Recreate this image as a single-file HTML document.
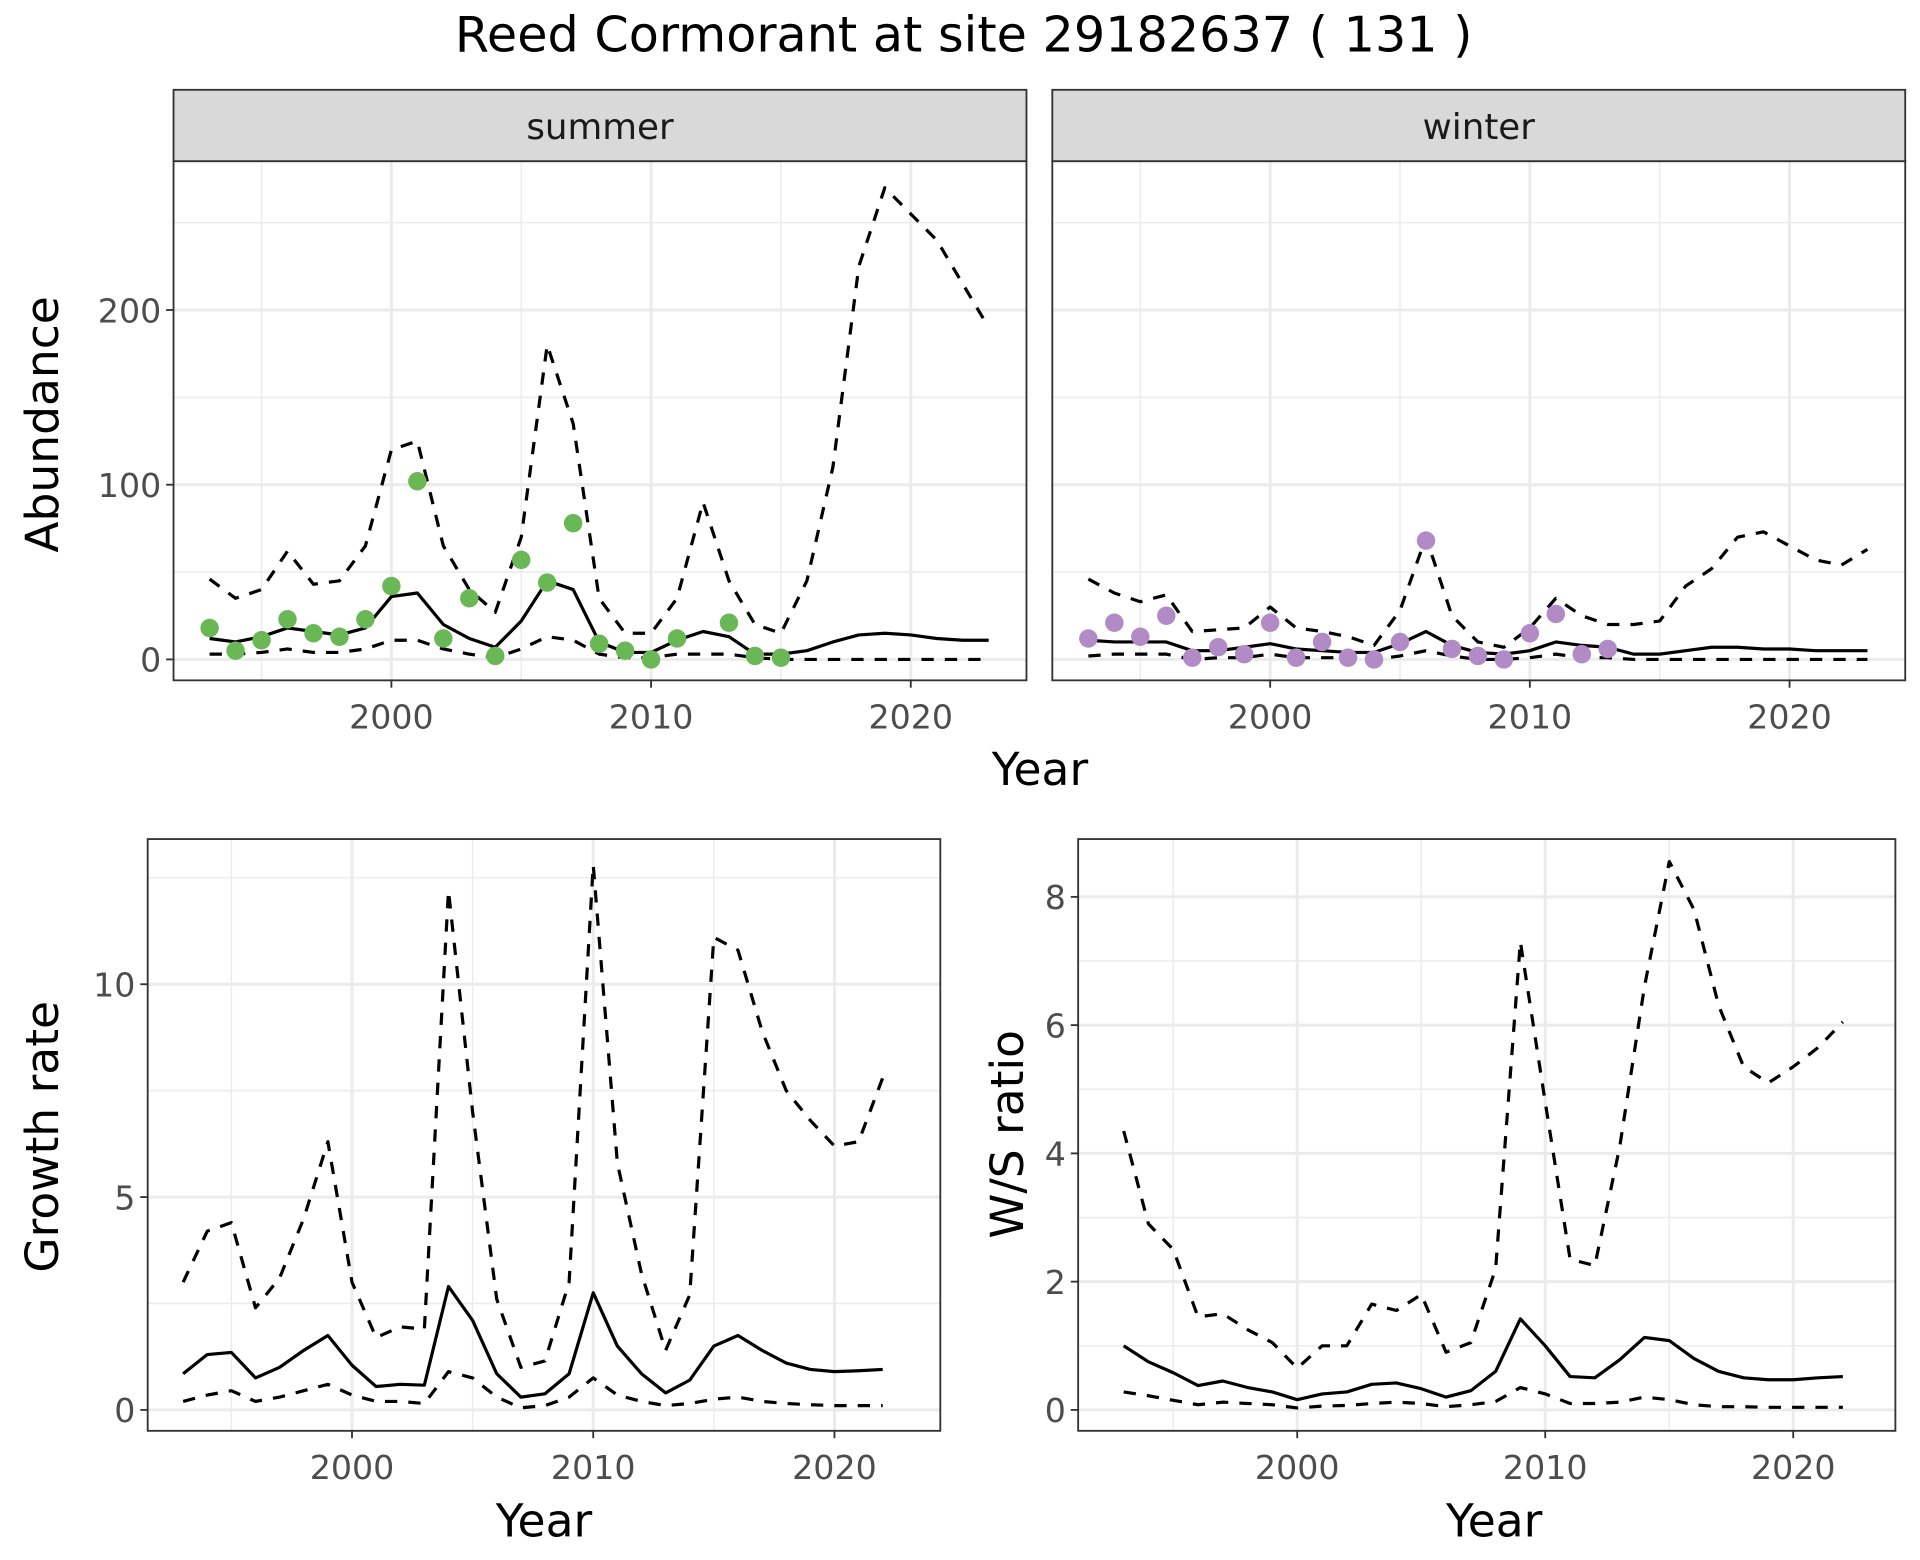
<!DOCTYPE html>
<html><head><meta charset="utf-8"><style>
html,body{margin:0;padding:0;background:#fff;}
svg{display:block;font-family:"DejaVu Sans","Liberation Sans",sans-serif;}
</style></head><body>
<svg id="chart" width="1920" height="1560" viewBox="0 0 1560 1268" preserveAspectRatio="none" xmlns="http://www.w3.org/2000/svg">
<text x="783" y="42" text-anchor="middle" font-size="40">Reed Cormorant at site 29182637 ( 131 )</text>
</svg>
<script>
const yearsFull = [];
for (let y = 1993; y <= 2023; y++) yearsFull.push(y);
const summerPtYears = [1993,1994,1995,1996,1997,1998,1999,2000,2001,2002,2003,2004,2005,2006,2007,2008,2009,2010,2011,2013,2014,2015];
const summerPtVals = [18,5,11,23,15,13,23,42,102,12,35,2,57,44,78,9,5,0,12,21,2,1];
const summerMean = [12,10,13,18,16,14,18,36,38,20,12,7,22,45,40,10,4,4,11,16,13,3,3,5,10,14,15,14,12,11,11];
const summerUpper = [46,35,40,62,43,45,65,120,125,65,40,27,70,180,135,35,15,15,35,90,45,20,15,45,110,225,270,255,240,215,190];
const summerLower = [3,3,4,6,4,4,6,11,11,6,3,1,6,13,11,3,1,1,3,3,3,1,0,0,0,0,0,0,0,0,0];
const winterPtYears = [1993,1994,1995,1996,1997,1998,1999,2000,2001,2002,2003,2004,2005,2006,2007,2008,2009,2010,2011,2012,2013];
const winterPtVals = [12,21,13,25,1,7,3,21,1,10,1,0,10,68,6,2,0,15,26,3,6];
const winterMean = [11,10,10,10,5,5,7,9,6,5,4,4,9,16,8,4,3,5,10,8,7,3,3,5,7,7,6,6,5,5,5];
const winterUpper = [46,38,33,37,16,17,18,30,18,16,13,8,28,70,25,10,7,18,35,25,20,20,22,42,52,70,73,65,57,54,63];
const winterLower = [2,3,3,3,0,1,1,3,1,1,1,0,2,5,2,0,0,1,3,1,1,0,0,0,0,0,0,0,0,0,0];
const yearsGR = yearsFull.slice(0,30);
const grMean = [0.85,1.3,1.35,0.75,1.0,1.4,1.75,1.05,0.55,0.6,0.58,2.9,2.1,0.85,0.3,0.38,0.85,2.75,1.5,0.85,0.4,0.7,1.5,1.75,1.4,1.1,0.95,0.9,0.92,0.95];
const grUpper = [3.0,4.2,4.4,2.4,3.1,4.5,6.3,3.0,1.7,1.95,1.9,12.2,7.0,2.6,1.0,1.15,3.0,12.8,5.8,3.2,1.4,2.7,11.1,10.8,8.9,7.5,6.8,6.2,6.3,7.8];
const grLower = [0.2,0.35,0.45,0.2,0.3,0.45,0.6,0.35,0.2,0.2,0.15,0.9,0.75,0.3,0.05,0.1,0.3,0.75,0.35,0.2,0.1,0.15,0.25,0.3,0.2,0.15,0.12,0.1,0.1,0.1];
const wsMean = [1.0,0.75,0.58,0.38,0.45,0.35,0.28,0.16,0.25,0.28,0.4,0.42,0.33,0.2,0.3,0.6,1.42,1.0,0.52,0.5,0.78,1.13,1.08,0.8,0.6,0.5,0.47,0.47,0.5,0.52];
const wsUpper = [4.35,2.9,2.5,1.45,1.5,1.25,1.05,0.65,1.0,1.0,1.65,1.55,1.8,0.9,1.05,2.2,7.3,4.8,2.35,2.25,4.1,6.6,8.55,7.8,6.3,5.35,5.1,5.35,5.65,6.05];
const wsLower = [0.28,0.22,0.15,0.08,0.12,0.1,0.08,0.03,0.06,0.07,0.1,0.12,0.1,0.05,0.08,0.13,0.35,0.25,0.1,0.1,0.12,0.2,0.16,0.08,0.05,0.05,0.04,0.04,0.04,0.04];
const xTicks = [2000,2010,2020];
const xMinor = [1995,2005,2015];
const abTicks = [0,100,200];
const abMinor = [50,150,250];
const grTicks = [0,5,10];
const grMinor = [2.5,7.5,12.5];
const wsTicks = [0,2,4,6,8];
const wsMinor = [1,3,5,7];

const NS = "http://www.w3.org/2000/svg";
const svg = document.getElementById('chart');
function mk(tag, attrs, parent){
  const e = document.createElementNS(NS, tag);
  for (const k in attrs) e.setAttribute(k, attrs[k]);
  (parent||svg).appendChild(e);
  return e;
}
function linear(d0,d1,r0,r1){ return v => r0 + (v-d0)/(d1-d0)*(r1-r0); }

function panel(p){
  const g = mk('g',{});
  
  
  mk('rect',{x:p.x0,y:p.y0,width:p.x1-p.x0,height:p.y1-p.y0,fill:'#fff'},g);
  p.xMinor.forEach(v=>{ const x=p.sx(v); mk('line',{x1:x,x2:x,y1:p.y0,y2:p.y1,stroke:'#ebebeb','stroke-width':1.2},g); });
  p.yMinor.forEach(v=>{ const y=p.sy(v); if(y>p.y0&&y<p.y1) mk('line',{x1:p.x0,x2:p.x1,y1:y,y2:y,stroke:'#ebebeb','stroke-width':1.2},g); });
  p.xTicks.forEach(v=>{ const x=p.sx(v); mk('line',{x1:x,x2:x,y1:p.y0,y2:p.y1,stroke:'#ebebeb','stroke-width':2.4},g); });
  p.yTicks.forEach(v=>{ const y=p.sy(v); mk('line',{x1:p.x0,x2:p.x1,y1:y,y2:y,stroke:'#ebebeb','stroke-width':2.4},g); });
  p.series.forEach(s=>{
    const pts = s.vals.map((v,i)=>p.sx(s.years[i]).toFixed(1)+','+p.sy(v).toFixed(1)).join(' ');
    const pl = mk('polyline',{points:pts,fill:'none',stroke:'#000','stroke-width':2.6,'stroke-dasharray':s.dash?'10,9':'none','stroke-linejoin':'round'},g);
    
    
  });
  if (p.points) p.points.vals.forEach((v,i)=>{
    const c = mk('circle',{cx:p.sx(p.points.years[i]),cy:p.sy(v),r:7.5,fill:p.points.color},g);
    
    
  });
  mk('rect',{x:p.x0,y:p.y0,width:p.x1-p.x0,height:p.y1-p.y0,fill:'none',stroke:'#333','stroke-width':1.5},g);
  if (p.strip){
    const r = mk('rect',{x:p.x0,y:p.y0-58,width:p.x1-p.x0,height:58,fill:'#d9d9d9',stroke:'#333','stroke-width':1.5},g);
    
    
    const t = mk('text',{x:(p.x0+p.x1)/2,y:p.y0-18,'text-anchor':'middle','font-size':29,fill:'#1a1a1a'},g);
    t.textContent = p.strip;
    
    
  }
  p.xTicks.forEach(v=>{
    const x=p.sx(v);
    mk('line',{x1:x,x2:x,y1:p.y1,y2:p.y1+6,stroke:'#333','stroke-width':1.5},g);
    const t=mk('text',{x:x,y:p.y1+39,'text-anchor':'middle','font-size':27,fill:'#4d4d4d'},g);
    t.textContent=v;
    
    
  });
  if (p.yLabels) p.yTicks.forEach(v=>{
    const y=p.sy(v);
    mk('line',{x1:p.x0-6,x2:p.x0,y1:y,y2:y,stroke:'#333','stroke-width':1.5},g);
    const t=mk('text',{x:p.x0-10,y:y+10,'text-anchor':'end','font-size':27,fill:'#4d4d4d'},g);
    t.textContent=v;
    
    
  });
  if (p.xTitle){
    const t=mk('text',{x:p.xTitle[0],y:p.xTitle[1],'text-anchor':'middle','font-size':37,fill:'#000'},g);
    t.textContent='Year';
    
    
  }
  if (p.yTitle){
    const t=mk('text',{x:0,y:0,'text-anchor':'middle','font-size':37,fill:'#000',transform:`translate(${p.yTitle[0]},${p.yTitle[1]}) rotate(-90)`},g);
    t.textContent=p.yTitle[2];
    
    
  }
}

const absY = linear(0,200,536,252);
panel({name:'summer-panel',x0:141,x1:834,y0:131,y1:553,sx:linear(2000,2020,318,740),sy:absY,
  xTicks,xMinor,yTicks:abTicks,yMinor:abMinor,yLabels:true,strip:'summer',
  yTitle:[47,345,'Abundance'],
  series:[{name:'summer-upper',years:yearsFull,vals:summerUpper,dash:true},{name:'summer-lower',years:yearsFull,vals:summerLower,dash:true},{name:'summer-mean',years:yearsFull,vals:summerMean}],
  points:{years:summerPtYears,vals:summerPtVals,color:'#6ab855'}});
panel({name:'winter-panel',x0:855,x1:1548,y0:131,y1:553,sx:linear(2000,2020,1032,1454),sy:absY,
  xTicks,xMinor,yTicks:abTicks,yMinor:abMinor,yLabels:false,strip:'winter',
  series:[{name:'winter-upper',years:yearsFull,vals:winterUpper,dash:true},{name:'winter-lower',years:yearsFull,vals:winterLower,dash:true},{name:'winter-mean',years:yearsFull,vals:winterMean}],
  points:{years:winterPtYears,vals:winterPtVals,color:'#b28ac6'}});
const yt = mk('text',{x:845,y:638,'text-anchor':'middle','font-size':37});
yt.textContent='Year';



panel({name:'growth-rate-panel',x0:120,x1:764,y0:682,y1:1163,sx:linear(2000,2020,286,678),sy:linear(0,10,1146,800),
  xTicks,xMinor,yTicks:grTicks,yMinor:grMinor,yLabels:true,xTitle:[442,1249],yTitle:[47,924,'Growth rate'],
  series:[{name:'growth-upper',years:yearsGR,vals:grUpper,dash:true},{name:'growth-lower',years:yearsGR,vals:grLower,dash:true},{name:'growth-mean',years:yearsGR,vals:grMean}]});
panel({name:'ws-ratio-panel',x0:876,x1:1540,y0:682,y1:1163,sx:linear(2000,2020,1054,1457),sy:linear(0,8,1146,729),
  xTicks,xMinor,yTicks:wsTicks,yMinor:wsMinor,yLabels:true,xTitle:[1214,1249],yTitle:[831,922,'W/S ratio'],
  series:[{name:'ws-upper',years:yearsGR,vals:wsUpper,dash:true},{name:'ws-lower',years:yearsGR,vals:wsLower,dash:true},{name:'ws-mean',years:yearsGR,vals:wsMean}]});
</script>
</body></html>
